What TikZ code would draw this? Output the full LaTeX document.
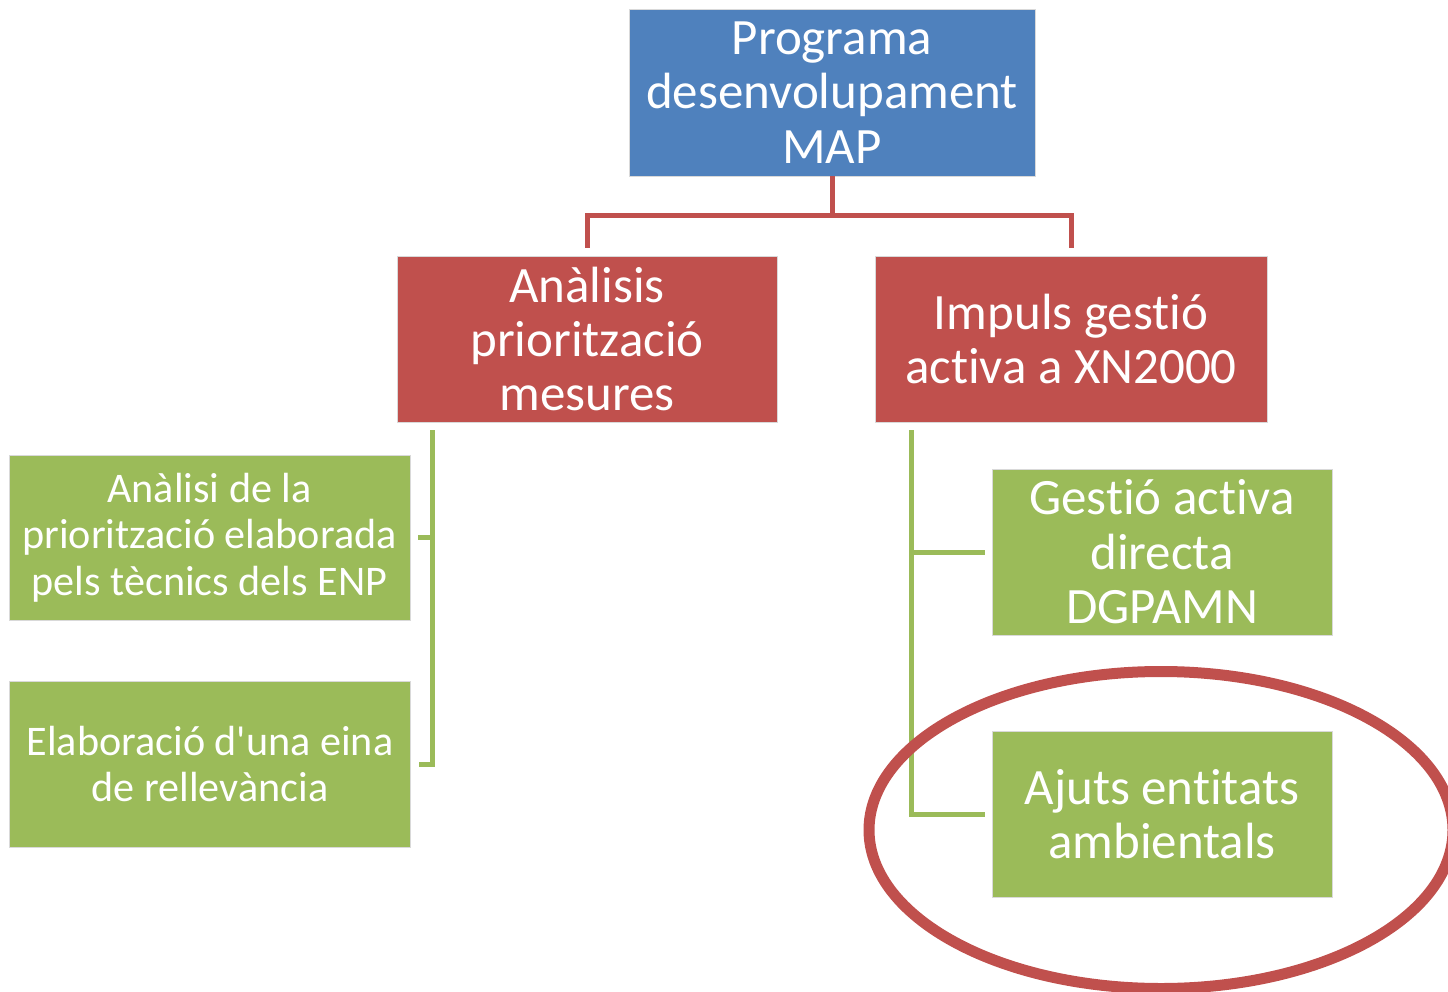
\documentclass[tikz,border=0pt]{standalone}
\usepackage{fontspec}
\setmainfont{Carlito}[Ligatures={CommonOff,TeXOff}]
\usetikzlibrary{calc}
\definecolor{cblue}{HTML}{4F81BD}
\definecolor{cred}{HTML}{C0504D}
\definecolor{cgreen}{HTML}{9BBB59}
\tikzset{
  box/.style={rectangle, draw=white!85!black, line width=0.4pt, text=white, align=center, inner sep=0pt},
  bigtext/.style={font=\fontsize{29}{31}\selectfont},
  smalltext/.style={font=\fontsize{24}{26.6}\selectfont},
  redline/.style={draw=cred, line width=0.1cm},
  greenline/.style={draw=cgreen, line width=0.1cm},
  ring/.style={draw=cred, line width=0.22cm}
}
\begin{document}
\begin{tikzpicture}
\useasboundingbox (0,0) rectangle (28.96,-19.84);
% boxes
\node[box, bigtext, fill=cblue, minimum width=8.12cm, minimum height=3.34cm] (top) at (16.64,-1.85) {Programa\\desenvolupament\\MAP};
\node[box, bigtext, fill=cred, minimum width=7.60cm, minimum height=3.32cm] (redL) at (11.74,-6.78) {Anàlisis\\priorització\\mesures};
\node[box, bigtext, fill=cred, minimum width=7.84cm, minimum height=3.32cm] (redR) at (21.42,-6.78) {Impuls gestió\\activa a XN2000};
\node[box, smalltext, fill=cgreen, minimum width=8.02cm, minimum height=3.30cm] (gL1) at (4.19,-10.75) {Anàlisi de la\\priorització elaborada\\pels tècnics dels ENP};
\node[box, smalltext, fill=cgreen, minimum width=8.02cm, minimum height=3.32cm] (gL2) at (4.20,-15.28) {Elaboració d'una eina\\de rellevància};
\node[box, bigtext, fill=cgreen, minimum width=6.80cm, minimum height=3.32cm] (gR1) at (23.24,-11.04) {Gestió activa\\directa\\DGPAMN};
\node[box, bigtext, fill=cgreen, minimum width=6.80cm, minimum height=3.32cm] (gR2) at (23.24,-16.28) {Ajuts entitats\\ambientals};
% red connectors
\coordinate (bus) at ($(top.south)+(0,-0.78)$);
\draw[redline] (top.south) -- (bus);
\draw[redline] ($(redL.north)+(0,0.16)$) |- (bus) -| ($(redR.north)+(0,0.16)$);
% green connectors left
\coordinate (lTop) at ($(redL.south west)+(0.72,-0.16)$);
\draw[greenline] (lTop) |- ($(gL2.east)+(0.16,0)$);
\draw[greenline] ($(gL1.east)+(0.16,0)$) -- (lTop |- gL1.east);
% green connectors right
\coordinate (rTop) at ($(redR.south west)+(0.74,-0.16)$);
\draw[greenline] (rTop) |- ($(gR2.west)+(-0.14,0)$);
\draw[greenline] ($(gR1.west)+(-0.14,0)$) -- (rTop |- gR1.west);
% highlight ellipse
\begin{scope}
\clip (0,0) rectangle (28.96,-19.84);
\draw[ring] (23.22,-16.6) ellipse (5.84cm and 3.17cm);
\end{scope}
\end{tikzpicture}
\end{document}
